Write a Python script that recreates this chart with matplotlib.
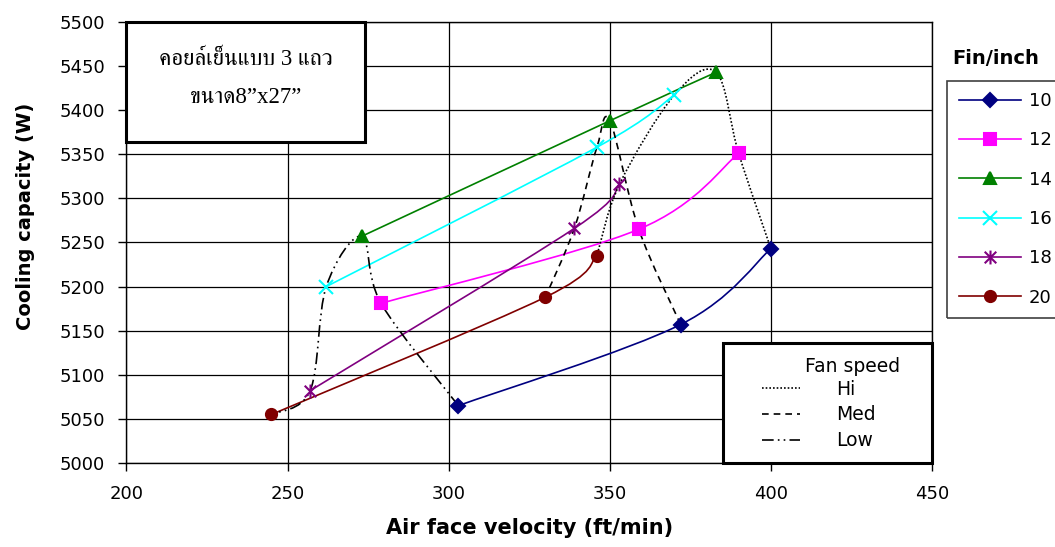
import numpy as np
import matplotlib
matplotlib.use('Agg')
import matplotlib.pyplot as plt
from matplotlib import font_manager
from matplotlib.ft2font import FT2Font
from matplotlib.path import Path
from matplotlib.patches import PathPatch, Rectangle
from matplotlib.lines import Line2D

fins = ['10', '12', '14', '16', '18', '20']
fan_speeds = ['Low', 'Med', 'Hi']
# one row per fin density, columns are Low / Med / Hi fan speed
velocity = [
    [303, 372, 400],
    [279, 359, 390],
    [273, 350, 383],
    [262, 346, 370],
    [257, 339, 353],
    [245, 330, 346],
]
capacity = [
    [5065, 5157, 5243],
    [5181, 5265, 5351],
    [5257, 5388, 5443],
    [5200, 5358, 5417],
    [5082, 5266, 5316],
    [5055, 5188, 5235],
]
x_ticks = [200, 250, 300, 350, 400, 450]
y_ticks = [5000, 5050, 5100, 5150, 5200, 5250, 5300, 5350, 5400, 5450, 5500]

colors = ['#000080', '#ff00ff', '#008000', '#00ffff', '#800080', '#800000']
star = Path([(-1, -1), (1, 1), (-1, 1), (1, -1), (0, -1.2), (0, 1.2)],
            [Path.MOVETO, Path.LINETO, Path.MOVETO, Path.LINETO, Path.MOVETO, Path.LINETO])
markers = ['D', 's', '^', 'x', star, 'o']
msizes = [7, 8, 9, 10, 10, 8]
fan_styles = [(0, (7, 2.5, 1, 2.5, 1, 2.5)), (0, (4, 3)), (0, (1, 1.2))]


def thai_fonts():
    found = []
    for f in font_manager.fontManager.ttflist:
        if f.name in found:
            continue
        try:
            cmap = FT2Font(f.fname).get_charmap()
        except Exception:
            continue
        if 0x0E04 in cmap:
            found.append(f.name)
    serif = [n for n in found if any(k in n for k in ('Serif', 'Norasi', 'Kinnari', 'Laksaman', 'Angsana'))]
    return serif + [n for n in found if n not in serif]


def smooth_path(xs, ys):
    # cubic bezier through every point, like a spreadsheet "smoothed line"
    pts = np.column_stack([xs, ys]).astype(float)
    n = len(pts)
    verts = [pts[0]]
    codes = [Path.MOVETO]
    for i in range(n - 1):
        p0 = pts[i - 1] if i > 0 else pts[i]
        p3 = pts[i + 2] if i + 2 < n else pts[i + 1]
        verts += [pts[i] + (pts[i + 1] - p0) / 6, pts[i + 1] - (p3 - pts[i]) / 6, pts[i + 1]]
        codes += [Path.CURVE4] * 3
    return Path(verts, codes)


plt.rcParams['font.family'] = 'DejaVu Sans'
fig = plt.figure(figsize=(10.55, 5.47), dpi=100)
ax = fig.add_axes([0.1199, 0.1536, 0.7635, 0.8062])

vel = np.array(velocity)
cap = np.array(capacity)

for i in range(len(fins)):
    ax.add_patch(PathPatch(smooth_path(vel[i], cap[i]), fill=False,
                           edgecolor=colors[i], lw=1.2, zorder=3))
    ax.plot(vel[i], cap[i], linestyle='none', marker=markers[i], ms=msizes[i],
            color=colors[i], mec=colors[i], mew=1.5, zorder=5)

for j in range(len(fan_speeds)):
    ax.add_patch(PathPatch(smooth_path(vel[:, j], cap[:, j]), fill=False,
                           edgecolor='black', lw=1.2, linestyle=fan_styles[j], zorder=4))

ax.set_xlim(200, 450)
ax.set_ylim(5000, 5500)
ax.set_xticks(x_ticks)
ax.set_yticks(y_ticks)
ax.tick_params(direction='out', length=5.5, width=1, labelsize=13, pad=10, colors='black')
ax.grid(True, color='black', lw=0.9)
ax.set_axisbelow(True)
for s in ax.spines.values():
    s.set_color('black')
    s.set_linewidth(1)

ax.set_xlabel('Air face velocity (ft/min)', fontsize=15, fontweight='bold', labelpad=11)
ax.set_ylabel('Cooling capacity (W)', fontsize=14, fontweight='bold')
ax.yaxis.set_label_coords(-0.1136, 0.56)

# coil description box
ax.add_patch(Rectangle((0, 0.7286), 0.296, 0.2714, transform=ax.transAxes, fill=True,
                       facecolor='white', edgecolor='black', lw=2.2, zorder=6, clip_on=False))
thai_family = ['Liberation Serif'] + thai_fonts() + ['DejaVu Serif']
ax.text(0.1484, 0.914, 'คอยล์เย็นแบบ 3 แถว', transform=ax.transAxes, ha='center', va='center',
        fontsize=16.5, family=thai_family, zorder=7)
ax.text(0.1484, 0.828, 'ขนาด8”x27”', transform=ax.transAxes, ha='center', va='center',
        fontsize=16.5, family=thai_family, zorder=7)

# fan speed key
ax.add_patch(Rectangle((0.7405, 0), 0.2595, 0.272, transform=ax.transAxes, fill=True,
                       facecolor='white', edgecolor='black', lw=2.2, zorder=6, clip_on=False))
ax.text(0.9015, 0.2177, 'Fan speed', transform=ax.transAxes, ha='center', va='center',
        fontsize=13.5, zorder=7)
fan_handles = [Line2D([], [], color='black', lw=1.2, linestyle=fan_styles[j]) for j in (2, 1, 0)]
fan_leg = ax.legend(fan_handles, ['Hi', 'Med', 'Low'], loc='upper left',
                    bbox_to_anchor=(0.789, 0.189), frameon=False, fontsize=13.5,
                    borderpad=0, borderaxespad=0, handlelength=2.0, handletextpad=1.95,
                    labelspacing=0.36)
fan_leg.set_zorder(8)

# fin density legend
fig.patches.append(Rectangle((947 / 1055, 1 - 318 / 547), 0.2, (318 - 81) / 547,
                             transform=fig.transFigure, fill=False, edgecolor='#404040', lw=1.2))
fig.text(952 / 1055, 1 - 59 / 547, 'Fin/inch', fontsize=14, fontweight='bold', va='center')
fin_handles = [Line2D([], [], color=colors[i], lw=1.2, marker=markers[i], ms=msizes[i],
                      mec=colors[i], mew=1.5) for i in range(len(fins))]
fig.legend(fin_handles, fins, loc='upper left', bbox_to_anchor=(959 / 1055, 1 - 92 / 547),
           frameon=False, fontsize=13, borderpad=0, borderaxespad=0, handlelength=3.45,
           handletextpad=0.4, labelspacing=1.18)

fig.savefig('out.png', dpi=100)
